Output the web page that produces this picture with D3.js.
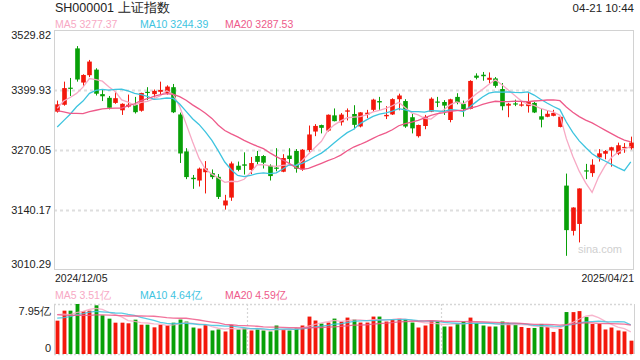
<!DOCTYPE html>
<html><head><meta charset="utf-8">
<script src="https://cdn.jsdelivr.net/npm/d3@7"></script>
<style>body{margin:0;background:#fff}svg{display:block}text{font-family:"Liberation Sans",Arial,sans-serif}</style>
</head><body><svg id="c" width="640" height="360"></svg>
<script>
const dates = ["2024/12/05","2024/12/06","2024/12/09","2024/12/10","2024/12/11","2024/12/12","2024/12/13","2024/12/16","2024/12/17","2024/12/18","2024/12/19","2024/12/20","2024/12/23","2024/12/24","2024/12/25","2024/12/26","2024/12/27","2024/12/30","2024/12/31",
"2025/01/02","2025/01/03","2025/01/06","2025/01/07","2025/01/08","2025/01/09","2025/01/10","2025/01/13","2025/01/14","2025/01/15","2025/01/16","2025/01/17","2025/01/20","2025/01/21","2025/01/22","2025/01/23","2025/01/24","2025/01/27",
"2025/02/05","2025/02/06","2025/02/07","2025/02/10","2025/02/11","2025/02/12","2025/02/13","2025/02/14","2025/02/17","2025/02/18","2025/02/19","2025/02/20","2025/02/21","2025/02/24","2025/02/25","2025/02/26","2025/02/27","2025/02/28",
"2025/03/03","2025/03/04","2025/03/05","2025/03/06","2025/03/07","2025/03/10","2025/03/11","2025/03/12","2025/03/13","2025/03/14","2025/03/17","2025/03/18","2025/03/19","2025/03/20","2025/03/21","2025/03/24","2025/03/25","2025/03/26","2025/03/27","2025/03/28","2025/03/31",
"2025/04/01","2025/04/02","2025/04/03","2025/04/07","2025/04/08","2025/04/09","2025/04/10","2025/04/11","2025/04/14","2025/04/15","2025/04/16","2025/04/17","2025/04/18","2025/04/21"];
const opens = [3353,3368,3405,3490,3416,3432,3444,3391,3383,3372,3356,3364,3368,3355,3396,3391,3396,3393,3406,
3347,3267,3210,3204,3222,3220,3212,3150,3167,3236,3239,3227,3257,3257,3236,3232,3223,3258,
3268,3228,3270,3310,3324,3312,3345,3330,3353,3348,3321,3347,3357,3376,3343,3347,3380,3376,
3341,3300,3322,3353,3375,3374,3335,3385,3370,3359,3431,3433,3422,3425,3402,3366,3371,3366,3365,3372,3343,
3342,3344,3320,3193,3095,3110,3226,3220,3254,3262,3269,3262,3274,3274];
const highs = [3377,3418,3426,3495,3434,3465,3447,3400,3387,3396,3371,3390,3385,3394,3406,3401,3418,3410,3413,
3351,3274,3216,3232,3246,3228,3218,3173,3245,3245,3265,3255,3268,3259,3239,3274,3261,3274,
3272,3272,3323,3326,3325,3347,3360,3350,3360,3367,3352,3357,3381,3385,3365,3382,3392,3380,
3348,3325,3346,3384,3385,3378,3381,3393,3377,3421,3436,3439,3438,3428,3415,3372,3379,3376,3393,3374,3360,
3355,3357,3344,3219,3146,3187,3240,3250,3272,3270,3277,3286,3285,3299];
const lows = [3351,3366,3387,3418,3409,3428,3388,3376,3358,3370,3346,3362,3349,3353,3378,3384,3391,3390,3350,
3242,3207,3186,3191,3176,3207,3164,3141,3160,3224,3217,3218,3239,3230,3204,3224,3222,3242,
3221,3225,3266,3300,3306,3310,3332,3323,3334,3315,3319,3339,3353,3357,3337,3346,3356,3318,
3306,3297,3315,3352,3363,3346,3330,3369,3342,3358,3423,3420,3414,3405,3356,3341,3365,3364,3351,3350,3319,
3341,3343,3319,3041,3085,3070,3207,3212,3245,3250,3234,3259,3264,3271];
const closes = [3368.86,3404.08,3402.53,3422.66,3432.49,3461.50,3391.88,3386.33,3361.49,3382.21,3370.03,3368.07,3351.91,3393.53,3393.35,3398.08,3400.14,3407.33,3351.76,
3262.56,3211.43,3206.92,3229.64,3230.17,3211.39,3168.52,3160.76,3240.94,3227.12,3236.03,3241.82,3244.38,3242.62,3213.62,3230.16,3252.63,3250.60,
3229.49,3270.66,3303.67,3322.17,3318.06,3346.39,3332.48,3346.72,3355.83,3324.49,3351.54,3350.78,3379.11,3373.03,3346.04,3380.21,3388.06,3320.90,
3316.93,3324.21,3341.96,3381.10,3372.55,3366.16,3379.83,3371.92,3358.73,3419.56,3426.43,3429.76,3426.43,3408.95,3364.83,3370.03,3369.98,3368.70,3373.75,3351.31,3335.75,
3348.44,3350.13,3342.01,3096.58,3145.55,3186.81,3223.64,3238.23,3262.81,3267.66,3276.00,3280.34,3276.73,3286.12];
// volume, 亿
const volumes = [5.30,6.89,6.89,7.95,6.78,6.89,7.74,6.15,5.62,4.98,4.98,4.88,5.46,4.66,4.66,4.24,4.66,4.56,4.98,
5.48,5.16,4.21,4.05,4.58,3.74,3.90,3.58,4.63,3.90,4.11,3.74,3.90,3.74,3.58,4.53,3.90,3.74,
4.05,4.53,5.95,5.32,4.84,5.00,5.63,5.16,5.79,5.48,5.00,5.00,5.95,5.95,5.16,5.48,5.63,5.48,
5.00,4.21,4.53,5.32,5.16,4.37,4.37,4.84,5.16,5.79,5.00,4.53,4.37,4.37,5.16,4.93,4.62,4.30,4.14,4.14,4.78,
4.30,3.51,3.99,6.67,6.66,6.82,5.87,4.77,4.77,3.90,4.21,3.74,3.58,2.12];
// sessions before the first shown day (for moving averages)
const priorCloses = [3452.30,3470.07,3421.97,3439.28,3379.84,3330.73,3323.85,3346.01,3367.99,3370.40,3267.19,3263.76,3259.76,3309.78,3295.70,3326.46,3363.98,3378.81,3364.65];
const priorVolumes = [8.2,7.7,7.6,7.1,6.9,6.5,6.1,6.2,5.9,5.6,6.1,5.4,4.7,5.3,4.4,6.6,7.1,6.4,5.9];
const priceTicks = [3010.29,3140.17,3270.05,3399.93,3529.82];
const volTicks = [0,7.95];
const maPeriods = [5,10,20];
const maColors = ["#f7a9c4","#3ec4df","#ee5a8a"];

const svg = d3.select("#c");
const L=54,R=634,T=30,B=270, VT=304, VB=354;
const FONT = 'font-family="Liberation Sans"';
const x = d3.scaleBand().domain(dates).range([L,R]);
const bwid = x.bandwidth();
const cx = i => x(dates[i]) + bwid/2;
const y = d3.scaleLinear().domain([priceTicks[0], priceTicks[priceTicks.length-1]]).range([B,T]);
const vy = d3.scaleLinear().domain([volTicks[0], volTicks[1]]).range([VB,VT]);
const up = "#f3180c", down = "#08a008";
const idx = d3.range(dates.length);
const isUp = i => closes[i] >= opens[i];

function ma(arr, prior, n){
  const all = prior.concat(arr);
  return arr.map((_,i)=>{const j=i+prior.length; return d3.mean(all.slice(j-n+1,j+1));});
}
const priceMA = maPeriods.map(n=>ma(closes, priorCloses, n));
const volMA = maPeriods.map(n=>ma(volumes, priorVolumes, n));

// header
svg.append("text").attr("x",55).attr("y",12).attr("font-size",12.5).attr("fill","#222").text("SH000001 上证指数");
svg.append("text").attr("x",634).attr("y",12).attr("text-anchor","end").attr("font-size",11.5).attr("fill","#222").text("04-21 10:44");
const legX = [55,140,225];
maPeriods.forEach((n,k)=>{
  svg.append("text").attr("x",legX[k]).attr("y",28).attr("font-size",10.5).attr("fill",maColors[k])
    .text("MA"+n+" "+priceMA[k][priceMA[k].length-1].toFixed(2));
  svg.append("text").attr("x",legX[k]).attr("y",299).attr("font-size",10.5).attr("fill",maColors[k])
    .text("MA"+n+" "+volMA[k][volMA[k].length-1].toFixed(2)+"亿");
});

// grid
const grid = svg.append("g");
priceTicks.slice(1,-1).forEach(t=>{
  grid.append("line").attr("x1",L).attr("x2",R).attr("y1",Math.round(y(t))+0.5).attr("y2",Math.round(y(t))+0.5)
    .attr("stroke","#dedede").attr("stroke-width",2).attr("stroke-dasharray","3,3");
});
svg.append("rect").attr("x",L+0.5).attr("y",T+0.5).attr("width",R-L-1).attr("height",B-T-1)
  .attr("fill","none").attr("stroke","#d2d2d2");

// volume frame
[VT,VB].forEach(v=>{
  grid.append("line").attr("x1",L).attr("x2",R).attr("y1",v+0.5).attr("y2",v+0.5)
    .attr("stroke","#d6d6d6").attr("stroke-width",1.5).attr("stroke-dasharray","2,2");
});
[L+(R-L)/3, L+2*(R-L)/3].forEach(v=>{
  grid.append("line").attr("x1",Math.round(v)+0.5).attr("x2",Math.round(v)+0.5).attr("y1",VT).attr("y2",VB)
    .attr("stroke","#d6d6d6").attr("stroke-width",1.2).attr("stroke-dasharray","2,2");
});
[L,R].forEach(v=>{
  grid.append("line").attr("x1",v+0.5).attr("x2",v+0.5).attr("y1",VT).attr("y2",VB).attr("stroke","#d2d2d2");
});

// y axis labels
const ax = svg.append("g").attr("transform",`translate(${L},0)`)
  .call(d3.axisLeft(y).tickValues(priceTicks).tickFormat(d3.format(".2f")).tickSize(0).tickPadding(3));
ax.select(".domain").remove();
ax.selectAll("text").attr("font-size",11).attr("fill","#222").attr("font-family","Liberation Sans")
  .attr("y",(d,i)=> i===0 ? -6.5 : (i===priceTicks.length-1 ? 4.5 : 0));
const vax = svg.append("g").attr("transform",`translate(${L},0)`)
  .call(d3.axisLeft(vy).tickValues(volTicks).tickFormat(d=> d===0 ? "0" : d3.format(".2f")(d)+"亿").tickSize(0).tickPadding(3));
vax.select(".domain").remove();
vax.selectAll("text").attr("font-size",11).attr("fill","#222").attr("font-family","Liberation Sans")
  .attr("y",(d,i)=> i===0 ? -6 : 7);

// dates
svg.append("text").attr("x",55).attr("y",282).attr("font-size",10.5).attr("fill","#222").text(dates[0]);
svg.append("text").attr("x",634).attr("y",282).attr("text-anchor","end").attr("font-size",10.5).attr("fill","#222").text(dates[dates.length-1]);

// watermark
svg.append("text").attr("x",622).attr("y",253).attr("text-anchor","end").attr("font-size",11).attr("fill","#cfcfcf").text("sina.com");

// candles
const cw = bwid*0.72;
const cg = svg.append("g");
cg.selectAll("line").data(idx).join("line")
  .attr("x1",i=>Math.round(cx(i))+0.5).attr("x2",i=>Math.round(cx(i))+0.5)
  .attr("y1",i=>y(highs[i])).attr("y2",i=>y(lows[i]))
  .attr("stroke",i=>isUp(i)?up:down).attr("stroke-width",1);
cg.selectAll("rect").data(idx).join("rect")
  .attr("x",i=>Math.round(cx(i))+0.5-cw/2).attr("width",cw)
  .attr("y",i=>y(Math.max(opens[i],closes[i])))
  .attr("height",i=>Math.max(1.2,Math.abs(y(opens[i])-y(closes[i]))))
  .attr("fill",i=>isUp(i)?up:down);

// volume bars
const vw = bwid*0.6;
svg.append("g").selectAll("rect").data(idx).join("rect")
  .attr("x",i=>Math.round(cx(i))+0.5-vw/2).attr("width",vw)
  .attr("y",i=>vy(volumes[i])).attr("height",i=>vy(0)-vy(volumes[i]))
  .attr("fill",i=>isUp(i)?up:down);

// MA lines
maPeriods.forEach((n,k)=>{
  svg.append("path").datum(idx).attr("fill","none").attr("stroke",maColors[k]).attr("stroke-width",1.3)
    .attr("d",d3.line().x(i=>cx(i)).y(i=>y(priceMA[k][i])));
  svg.append("path").datum(idx).attr("fill","none").attr("stroke",maColors[k]).attr("stroke-width",1.3).attr("opacity",0.85)
    .attr("d",d3.line().x(i=>cx(i)).y(i=>vy(volMA[k][i])));
});
</script></body></html>
